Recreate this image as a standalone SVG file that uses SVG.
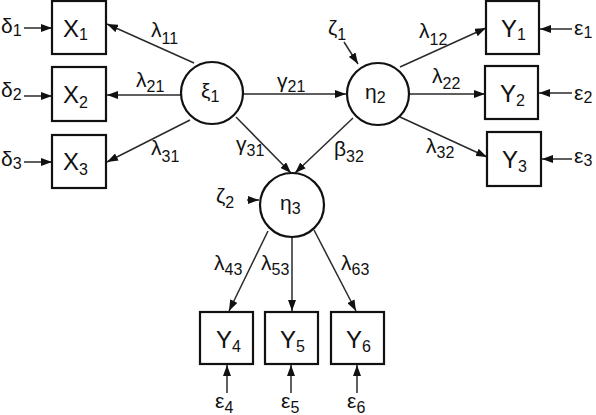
<svg xmlns="http://www.w3.org/2000/svg" width="596" height="415" viewBox="0 0 596 415">
<style>
.box{fill:#fff;stroke:#111;stroke-width:2.2}
.lat{fill:#fff;stroke:#111;stroke-width:2.2}
.c line{stroke:#2a2a2a;stroke-width:1.5;marker-end:url(#ah)}
text{font-family:"Liberation Sans",Arial,sans-serif;fill:#111}
.v{font-size:24px}
.g{font-size:21px}
.s{font-size:16px}
</style>
<defs>
<marker id="ah" markerUnits="userSpaceOnUse" markerWidth="11" markerHeight="8" refX="11" refY="4" orient="auto">
<path d="M0,0 L11,4 L0,8 z" fill="#111"/>
</marker>
</defs>
<g class="c" id="connectors">
<line x1="24" y1="28" x2="52" y2="28"/>
<line x1="24" y1="96" x2="52" y2="96"/>
<line x1="24" y1="162" x2="52" y2="162"/>
<line x1="194" y1="63" x2="107" y2="24"/>
<line x1="181" y1="95" x2="107" y2="95"/>
<line x1="190" y1="120" x2="107" y2="162"/>
<line x1="244" y1="94" x2="346" y2="94"/>
<line x1="236" y1="117" x2="291" y2="173"/>
<line x1="353" y1="118" x2="295" y2="173"/>
<line x1="344" y1="42" x2="358" y2="64"/>
<line x1="400" y1="67" x2="486" y2="28"/>
<line x1="409" y1="94" x2="485" y2="94"/>
<line x1="400" y1="117" x2="487" y2="157"/>
<line x1="572" y1="29" x2="540" y2="29"/>
<line x1="572" y1="93" x2="539" y2="93"/>
<line x1="572" y1="159" x2="542" y2="159"/>
<line x1="247" y1="200" x2="259" y2="200"/>
<line x1="268" y1="231" x2="229" y2="311"/>
<line x1="292" y1="237" x2="292" y2="311"/>
<line x1="314" y1="230" x2="356" y2="311"/>
<line x1="227" y1="393" x2="227" y2="365"/>
<line x1="291" y1="393" x2="291" y2="365"/>
<line x1="357" y1="393" x2="357" y2="365"/>
</g>
<g id="X1"><rect class="box" x="52" y="1" width="54" height="53"/><text class="v" x="63" y="37">X<tspan class="s" dy="3">1</tspan></text></g>
<g id="X2"><rect class="box" x="52" y="67" width="54" height="54"/><text class="v" x="63" y="103">X<tspan class="s" dy="5">2</tspan></text></g>
<g id="X3"><rect class="box" x="52" y="135" width="54" height="53"/><text class="v" x="63" y="170">X<tspan class="s" dy="5">3</tspan></text></g>
<g id="Y1"><rect class="box" x="486" y="1" width="53" height="53"/><text class="v" x="501" y="37">Y<tspan class="s" dy="3">1</tspan></text></g>
<g id="Y2"><rect class="box" x="485" y="66" width="53" height="53"/><text class="v" x="500" y="102">Y<tspan class="s" dy="4">2</tspan></text></g>
<g id="Y3"><rect class="box" x="487" y="132" width="54" height="54"/><text class="v" x="502" y="168">Y<tspan class="s" dy="4">3</tspan></text></g>
<g id="Y4"><rect class="box" x="200" y="312" width="53" height="52"/><text class="v" x="216" y="348">Y<tspan class="s" dy="4">4</tspan></text></g>
<g id="Y5"><rect class="box" x="265" y="312" width="53" height="52"/><text class="v" x="280" y="348">Y<tspan class="s" dy="4">5</tspan></text></g>
<g id="Y6"><rect class="box" x="331" y="312" width="53" height="52"/><text class="v" x="346" y="348">Y<tspan class="s" dy="4">6</tspan></text></g>
<g id="xi1"><circle class="lat" cx="212" cy="93" r="31"/><text class="g" x="201" y="98">ξ<tspan class="s" dy="4">1</tspan></text></g>
<g id="eta2"><circle class="lat" cx="378" cy="94" r="31"/><text class="g" x="365" y="99">η<tspan class="s" dy="4">2</tspan></text></g>
<g id="eta3"><circle class="lat" cx="292" cy="205" r="32"/><text class="g" x="280" y="210">η<tspan class="s" dy="4">3</tspan></text></g>
<g id="labels">
<text class="g" x="1" y="33">δ<tspan class="s" dy="3">1</tspan></text>
<text class="g" x="1" y="97">δ<tspan class="s" dy="3">2</tspan></text>
<text class="g" x="1" y="166">δ<tspan class="s" dy="3">3</tspan></text>
<text class="g" x="574" y="35">ε<tspan class="s" dy="3">1</tspan></text>
<text class="g" x="574" y="100">ε<tspan class="s" dy="3">2</tspan></text>
<text class="g" x="574" y="163">ε<tspan class="s" dy="3">3</tspan></text>
<text class="g" x="215" y="408">ε<tspan class="s" dy="5">4</tspan></text>
<text class="g" x="281" y="408">ε<tspan class="s" dy="5">5</tspan></text>
<text class="g" x="347" y="408">ε<tspan class="s" dy="5">6</tspan></text>
<text class="g" x="328" y="35">ζ<tspan class="s" dy="5">1</tspan></text>
<text class="g" x="216" y="203">ζ<tspan class="s" dy="5">2</tspan></text>
<text class="g" x="151" y="37">λ<tspan class="s" dy="7">11</tspan></text>
<text class="g" x="136" y="87">λ<tspan class="s" dy="5">21</tspan></text>
<text class="g" x="151" y="155">λ<tspan class="s" dy="7">31</tspan></text>
<text class="g" x="419" y="38">λ<tspan class="s" dy="7">12</tspan></text>
<text class="g" x="432" y="83">λ<tspan class="s" dy="6">22</tspan></text>
<text class="g" x="426" y="153">λ<tspan class="s" dy="5">32</tspan></text>
<text class="g" x="277" y="88">γ<tspan class="s" dy="4">21</tspan></text>
<text class="g" x="236" y="151">γ<tspan class="s" dy="5">31</tspan></text>
<text class="g" x="334" y="156">β<tspan class="s" dy="6">32</tspan></text>
<text class="g" x="214" y="270">λ<tspan class="s" dy="5">43</tspan></text>
<text class="g" x="261" y="270">λ<tspan class="s" dy="5">53</tspan></text>
<text class="g" x="341" y="270">λ<tspan class="s" dy="5">63</tspan></text>
</g>
</svg>
